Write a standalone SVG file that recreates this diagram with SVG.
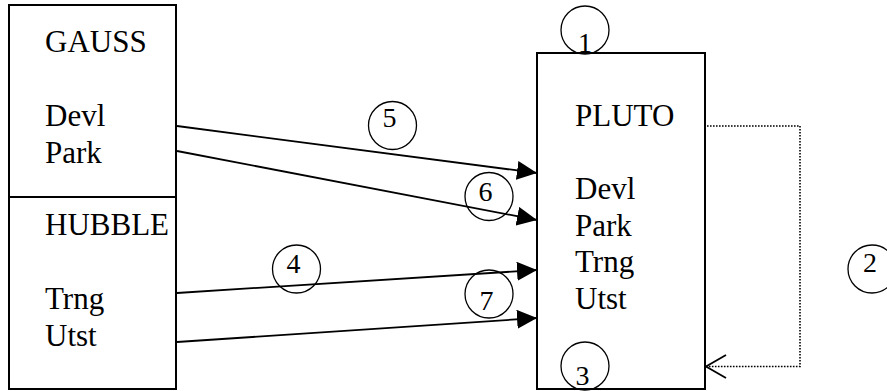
<svg xmlns="http://www.w3.org/2000/svg" width="887" height="391" viewBox="0 0 887 391">
  <style>
    .box { fill: #ffffff; stroke: #000000; stroke-width: 2; }
    .lbl { font-family: "Liberation Serif", serif; font-size: 31px; fill: #000000; }
    .num { font-family: "Liberation Serif", serif; font-size: 28px; fill: #000000; text-anchor: middle; }
    .ring { fill: none; stroke: #000000; stroke-width: 1.3; }
    .edge { fill: none; stroke: #000000; stroke-width: 1.8; }
    .dotted { fill: none; stroke: #000000; stroke-width: 1.6; stroke-dasharray: 1.6 1.4; }
  </style>
  <defs>
    <marker id="solidArrow" markerUnits="userSpaceOnUse" markerWidth="20" markerHeight="19" refX="20" refY="9.5" orient="auto" viewBox="0 0 20 19">
      <path d="M0,0 L20,9.5 L0,19 Z" fill="#000000" stroke="none"/>
    </marker>
    <marker id="openArrow" markerUnits="userSpaceOnUse" markerWidth="24" markerHeight="27" refX="21" refY="12.5" orient="auto" viewBox="0 0 24 27" overflow="visible">
      <path d="M1,1 L21,12.5 L1,24" fill="none" stroke="#000000" stroke-width="1.8" stroke-dasharray="none"/>
    </marker>
  </defs>

  <rect width="887" height="391" fill="#ffffff"/>

  <g id="gauss">
    <rect class="box" x="9" y="5" width="167" height="192"/>
    <text class="lbl" x="45" y="52">GAUSS</text>
    <text class="lbl" x="45" y="125.5">Devl</text>
    <text class="lbl" x="45" y="162.5">Park</text>
  </g>

  <g id="hubble">
    <rect class="box" x="9" y="197" width="167" height="192"/>
    <text class="lbl" x="45" y="235">HUBBLE</text>
    <text class="lbl" x="45" y="308.5">Trng</text>
    <text class="lbl" x="45" y="345.5">Utst</text>
  </g>

  <g id="pluto">
    <rect class="box" x="537" y="53" width="168" height="336"/>
    <text class="lbl" x="575" y="126">PLUTO</text>
    <text class="lbl" x="575" y="199">Devl</text>
    <text class="lbl" x="575" y="235.5">Park</text>
    <text class="lbl" x="575" y="272">Trng</text>
    <text class="lbl" x="575" y="308.5">Utst</text>
  </g>

  <g id="connectors">
    <line class="edge" x1="177" y1="126" x2="537" y2="173" marker-end="url(#solidArrow)"/>
    <line class="edge" x1="177" y1="151" x2="537" y2="220" marker-end="url(#solidArrow)"/>
    <line class="edge" x1="177" y1="293" x2="537" y2="270" marker-end="url(#solidArrow)"/>
    <line class="edge" x1="177" y1="342" x2="537" y2="318" marker-end="url(#solidArrow)"/>
    <path class="dotted" d="M707,126 H800 V366.5 H706" marker-end="url(#openArrow)"/>
  </g>

  <g id="label-1">
    <circle class="ring" cx="585" cy="30" r="24"/>
    <text class="num" x="585" y="52">1</text>
  </g>
  <g id="label-2">
    <circle class="ring" cx="872" cy="269" r="24"/>
    <text class="num" x="870" y="272">2</text>
  </g>
  <g id="label-3">
    <circle class="ring" cx="585" cy="366" r="24"/>
    <text class="num" x="582.5" y="385">3</text>
  </g>
  <g id="label-4">
    <circle class="ring" cx="296.5" cy="269" r="24"/>
    <text class="num" x="293.5" y="273">4</text>
  </g>
  <g id="label-5">
    <circle class="ring" cx="392.5" cy="125.5" r="24"/>
    <text class="num" x="389.5" y="127">5</text>
  </g>
  <g id="label-6">
    <circle class="ring" cx="489" cy="196.5" r="24"/>
    <text class="num" x="485.5" y="201">6</text>
  </g>
  <g id="label-7">
    <circle class="ring" cx="489" cy="294" r="24"/>
    <text class="num" x="486.5" y="310">7</text>
  </g>
</svg>
